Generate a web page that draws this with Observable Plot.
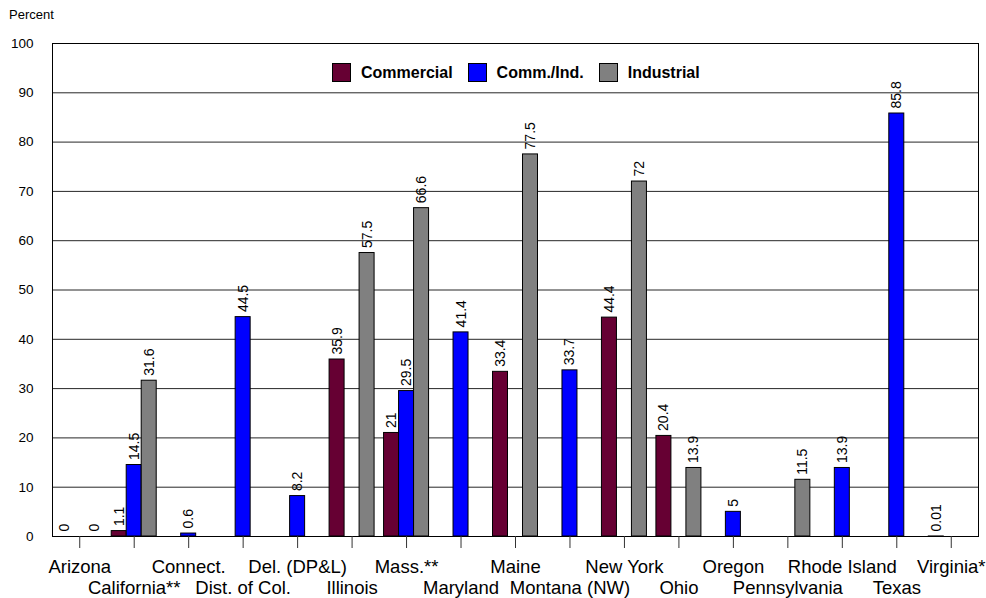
<!DOCTYPE html>
<html>
<head>
<meta charset="utf-8">
<script src="https://cdn.jsdelivr.net/npm/d3@7"></script>
<script src="https://cdn.jsdelivr.net/npm/@observablehq/plot@0.6"></script>
<style>
  body { margin: 0; background: #fff; font-family: "Liberation Sans", Arial, sans-serif; }
  #chart { position: relative; width: 986px; height: 598px; }
  #chart svg { position: absolute; left: 0; top: 0; }
  .ylab { position: absolute; left: 9px; top: 7px; font-size: 13px; color: #000; }
  .legend { position: absolute; left: 332px; top: 63px; display: flex; align-items: center;
            font-weight: bold; font-size: 16px; color: #000; }
  .legend .item { display: flex; align-items: center; margin-right: 15px; }
  .legend .sw { display: inline-block; width: 19px; height: 19px; border: 1px solid #000;
                box-sizing: border-box; margin-right: 10px; }
</style>
</head>
<body>
<div id="chart"></div>
<script>
// Utility customer categories by state
const states = ["Arizona", "California**", "Connect.", "Dist. of Col.", "Del. (DP&L)", "Illinois",
  "Mass.**", "Maryland", "Maine", "Montana (NW)", "New York", "Ohio", "Oregon",
  "Pennsylvania", "Rhode Island", "Texas", "Virginia*"];

// Percent values per series (null = no value reported)
const commercial = [0, 1.1, null, null, null, 35.9, 21, null, 33.4, null, 44.4, 20.4, null, null, null, null, 0.01];
const commInd    = [null, 14.5, 0.6, 44.5, 8.2, null, 29.5, 41.4, null, 33.7, null, null, 5, null, 13.9, 85.8, null];
const industrial = [0, 31.6, null, null, null, 57.5, 66.6, null, 77.5, null, 72, 13.9, null, 11.5, null, null, null];

const seriesNames = ["Commercial", "Comm./Ind.", "Industrial"];
const seriesValues = [commercial, commInd, industrial];
const seriesColors = ["#660033", "#0000ff", "#808080"];

const yTicks = [0, 10, 20, 30, 40, 50, 60, 70, 80, 90, 100];

const W = 986, H = 598, mL = 52, mR = 8, mT = 43, mB = 62;
const step = (W - mL - mR) / states.length;
const barW = 15;
const inset = (step - barW) / 2;

const rowsFor = (vals) =>
  states.map((s, i) => ({state: s, value: vals[i]})).filter(d => d.value != null);

// Three bars per state, side by side around the state's band centre
const barMarks = seriesNames.map((name, k) =>
  Plot.barY(rowsFor(seriesValues[k]), {
    x: "state", y: "value", fill: seriesColors[k], stroke: "#000", strokeWidth: 1,
    insetLeft: inset, insetRight: inset, dx: (k - 1) * barW
  }));

// Vertical value labels above each bar
const labelMarks = seriesNames.map((name, k) =>
  Plot.text(rowsFor(seriesValues[k]), {
    x: "state", y: "value", text: d => String(d.value), rotate: -90,
    textAnchor: "start", dx: (k - 1) * barW, dy: -5, fontSize: 14, fill: "#000"
  }));

const chart = Plot.plot({
  width: W, height: H,
  marginLeft: mL, marginRight: mR, marginTop: mT, marginBottom: mB,
  style: {fontFamily: "'Liberation Sans', Arial, sans-serif", background: "#fff", color: "#000"},
  x: {type: "band", domain: states, padding: 0, round: false, axis: null},
  y: {domain: [0, 100], axis: null},
  marks: [
    Plot.gridY(yTicks, {stroke: "#000", strokeOpacity: 0.85}),
    ...barMarks,
    ...labelMarks,
    Plot.frame({stroke: "#000"}),
    Plot.axisY(yTicks, {tickSize: 0, tickPadding: 19, fontSize: 13.5, label: null, tickFormat: d => String(d)}),
    Plot.axisX(states, {tickSize: 12, tickFormat: () => "", label: null, stroke: "#333"}),
    // State names, staggered over two rows
    Plot.text(states.filter((d, i) => i % 2 === 0), {
      x: d => d, frameAnchor: "bottom", lineAnchor: "top", dy: 23, fontSize: 18.5, fill: "#000"
    }),
    Plot.text(states.filter((d, i) => i % 2 === 1), {
      x: d => d, frameAnchor: "bottom", lineAnchor: "top", dy: 44, fontSize: 18.5, fill: "#000"
    })
  ]
});

const root = document.getElementById("chart");
root.appendChild(chart);

const ylab = document.createElement("div");
ylab.className = "ylab";
ylab.textContent = "Percent";
root.appendChild(ylab);

const legend = document.createElement("div");
legend.className = "legend";
seriesNames.forEach((name, k) => {
  const item = document.createElement("div");
  item.className = "item";
  const sw = document.createElement("span");
  sw.className = "sw";
  sw.style.background = seriesColors[k];
  const label = document.createElement("span");
  label.textContent = name;
  item.appendChild(sw);
  item.appendChild(label);
  legend.appendChild(item);
});
root.appendChild(legend);
</script>
</body>
</html>
